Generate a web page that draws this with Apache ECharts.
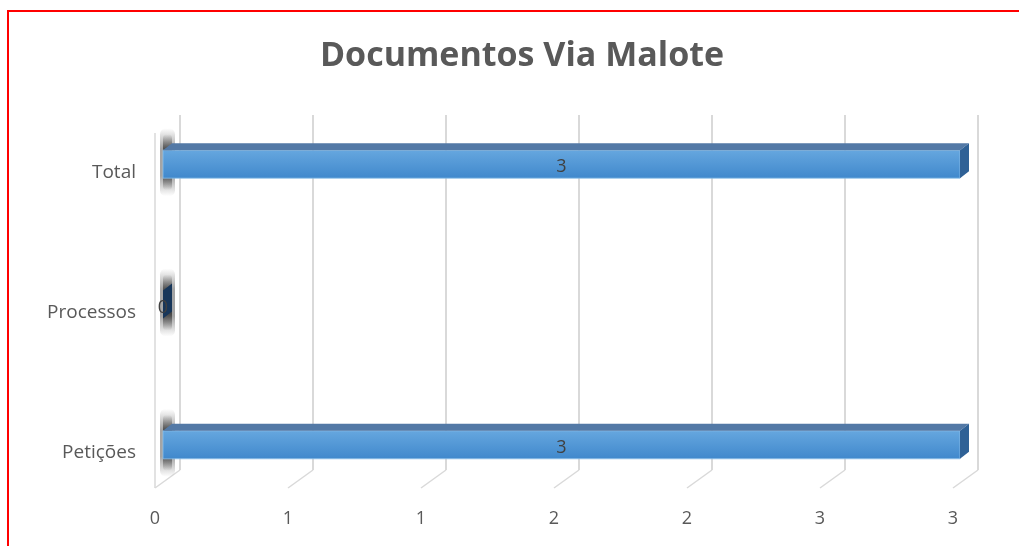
<!DOCTYPE html>
<html>
<head>
    <meta charset="utf-8" />
    <title>Documentos Via Malote</title>
    <script src="https://cdn.jsdelivr.net/npm/echarts@6/dist/echarts.min.js"></script>
    <style>
        html, body { margin: 0; padding: 0; background: #fff; overflow: hidden; }
        #frame { position: absolute; left: 7px; top: 10px; width: 1100px; height: 600px; border: 2px solid #ff0000; box-sizing: border-box; }
        #chart { position: absolute; left: 0; top: 0; width: 1019px; height: 546px; }
    </style>
</head>
<body>
    <div id="frame"></div>
    <div id="chart"></div>
    <script type="text/javascript">
        // categorias (de baixo para cima) e valores
        const categories = ['Petições', 'Processos', 'Total'];
        const values = [3, 0, 3];
        // marcas do eixo horizontal (rótulos arredondados como no Excel)
        const xTicks = [0, 0.5, 1, 1.5, 2, 2.5, 3];

        const depthX = 9, depthY = 7, barH = 28;
        const textColor = '#595959';

        const shadowFill = function (a) {
            return new echarts.graphic.LinearGradient(0, 0, 0, 1, [
                { offset: 0, color: 'rgba(30,30,30,0)' },
                { offset: 0.3, color: 'rgba(30,30,30,' + a + ')' },
                { offset: 0.7, color: 'rgba(30,30,30,' + a + ')' },
                { offset: 1, color: 'rgba(30,30,30,0)' }
            ]);
        };

        // barra "3D": frente, topo e lateral
        const renderBar = function (params, api) {
            const v = api.value(0);
            const cat = api.value(1);
            const p0 = api.coord([0, cat]);
            const p1 = api.coord([v, cat]);
            const x0 = p0[0], x1 = p1[0];
            const y0 = p0[1] - barH / 2;
            const children = [];
            // sombra na parede esquerda
            children.push({
                type: 'rect',
                shape: { x: x0 - 3, y: y0 - 22, width: 15, height: barH + 40, r: 6 },
                style: { fill: shadowFill(0.4) },
                z2: 1
            });
            children.push({
                type: 'rect',
                shape: { x: x0, y: y0 - 16, width: 9, height: barH + 28, r: 4 },
                style: { fill: shadowFill(0.7) },
                z2: 1
            });
            if (x1 - x0 > 1) {
                children.push({
                    type: 'rect',
                    shape: { x: x0, y: y0, width: x1 - x0, height: barH },
                    style: {
                        fill: new echarts.graphic.LinearGradient(0, 0, 0, 1, [
                            { offset: 0, color: '#66a7df' },
                            { offset: 1, color: '#4088cc' }
                        ]),
                        stroke: '#8ec0ea', lineWidth: 0.8
                    },
                    z2: 3
                });
                children.push({
                    type: 'polygon',
                    shape: { points: [[x0, y0], [x1, y0], [x1 + depthX, y0 - depthY], [x0 + depthX, y0 - depthY]] },
                    style: { fill: '#5379a6' },
                    z2: 3
                });
            }
            children.push({
                type: 'polygon',
                shape: { points: [[x1, y0], [x1 + depthX, y0 - depthY], [x1 + depthX, y0 + barH - depthY], [x1, y0 + barH]] },
                style: { fill: x1 - x0 > 1 ? '#2f6196' : '#17365a' },
                z2: 3
            });
            children.push({
                type: 'text',
                style: {
                    text: String(v),
                    x: x1 - x0 > 1 ? (x0 + x1) / 2 : x0,
                    y: y0 + barH / 2 + 3,
                    align: 'center', verticalAlign: 'middle',
                    fill: '#404040', fontSize: 18, fontFamily: 'Open Sans'
                },
                z2: 5
            });
            return { type: 'group', children: children };
        };

        // linhas do piso e parede esquerda
        const renderFloor = function (params, api) {
            const t = api.value(0);
            const b = api.coord([t, 0]);
            const top = api.coord([t, 1]);
            const children = [{
                type: 'line',
                shape: { x1: b[0], y1: b[1], x2: b[0] - 25, y2: b[1] + 18 },
                style: { stroke: '#d9d9d9', lineWidth: 1.5 }
            }];
            if (params.dataIndex === 0) {
                children.push({
                    type: 'line',
                    shape: { x1: b[0] - 25, y1: b[1] + 18, x2: b[0] - 25, y2: top[1] + 18 },
                    style: { stroke: '#d9d9d9', lineWidth: 1.5 }
                });
            }
            return { type: 'group', children: children };
        };

        const chart = echarts.init(document.getElementById('chart'));
        const option = {
            backgroundColor: 'transparent',
            animation: false,
            title: {
                text: 'Documentos Via Malote',
                left: 517, top: 34, textAlign: 'center',
                textStyle: { fontSize: 34, fontWeight: 'bold', color: textColor, fontFamily: 'Open Sans' }
            },
            grid: [
                { left: 163, right: 59, top: 94, bottom: 31 },   // barras
                { left: 155, right: 66, top: 100, bottom: 41 },  // rótulos do eixo x
                { left: 180, right: 41, top: 115, bottom: 76 },  // parede do fundo
                { left: 163, right: 59, top: 103, bottom: 23 }   // rótulos das categorias
            ],
            xAxis: [
                { gridIndex: 0, type: 'value', min: xTicks[0], max: xTicks[xTicks.length - 1], interval: 0.5,
                  axisLine: { show: false }, axisTick: { show: false }, axisLabel: { show: false }, splitLine: { show: false } },
                { gridIndex: 1, type: 'value', min: xTicks[0], max: xTicks[xTicks.length - 1], interval: 0.5,
                  axisLine: { show: false }, axisTick: { show: false }, splitLine: { show: false },
                  axisLabel: { margin: 5, fontSize: 18, color: textColor, fontFamily: 'Open Sans',
                               formatter: function (v) { return String(Math.round(v)); } } },
                { gridIndex: 2, type: 'value', min: xTicks[0], max: xTicks[xTicks.length - 1], interval: 0.5,
                  axisLine: { show: false }, axisTick: { show: false }, axisLabel: { show: false },
                  splitLine: { show: true, lineStyle: { color: '#d9d9d9', width: 2 } } },
                { gridIndex: 3, type: 'value', show: false }
            ],
            yAxis: [
                { gridIndex: 0, type: 'category', data: categories, show: false },
                { gridIndex: 1, type: 'value', show: false },
                { gridIndex: 2, type: 'value', show: false, min: 0, max: 1 },
                { gridIndex: 3, type: 'category', data: categories,
                  axisLine: { show: false }, axisTick: { show: false },
                  axisLabel: { margin: 27, fontSize: 19, color: textColor, fontFamily: 'Open Sans' } }
            ],
            series: [
                {
                    type: 'custom', xAxisIndex: 2, yAxisIndex: 2, z: 1,
                    renderItem: renderFloor,
                    data: xTicks.map(function (t) { return [t]; })
                },
                {
                    type: 'custom', xAxisIndex: 0, yAxisIndex: 0, z: 5,
                    renderItem: renderBar,
                    encode: { x: 0, y: 1 },
                    data: values.map(function (v, i) { return [v, i]; })
                }
            ]
        };
        chart.setOption(option);
    </script>
</body>
</html>
